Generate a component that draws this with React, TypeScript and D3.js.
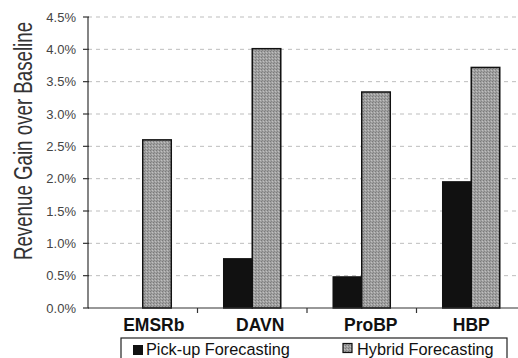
import React from "react";
import * as d3 from "d3";

const categories = ["EMSRb", "DAVN", "ProBP", "HBP"];
const seriesNames = ["Pick-up Forecasting", "Hybrid Forecasting"];
const pickupValues = [0, 0.0076, 0.0048, 0.0195];
const hybridValues = [0.026, 0.0401, 0.0334, 0.0372];
const yTicks = [0, 0.005, 0.01, 0.015, 0.02, 0.025, 0.03, 0.035, 0.04, 0.045];

const W = 518;
const H = 358;
const FONT = "'Liberation Sans', Arial, Helvetica, sans-serif";
// label nudges seen in the scanned original
const labelShift = [11, 8, 9, 0];

export default function App() {
  const left = 88;
  const right = 526;
  const y = d3.scaleLinear().domain([0, 0.045]).range([308, 17]);
  const x0 = d3.scaleBand<string>().domain(categories).range([left, right]).padding(0);
  const x1 = d3
    .scaleBand<string>()
    .domain(seriesNames)
    .range([0, x0.bandwidth()])
    .paddingInner(0)
    .paddingOuter(0.92);
  const fmt = d3.format(".1%");
  const series = [
    { name: seriesNames[0], values: pickupValues, fill: "#111" },
    { name: seriesNames[1], values: hybridValues, fill: "url(#stipple)" },
  ];

  return (
    <svg
      width={W}
      height={H}
      style={{ position: "fixed", left: 0, top: 0, background: "#fff" }}
      fontFamily={FONT}
    >
      <defs>
        <pattern id="stipple" width="3" height="3" patternUnits="userSpaceOnUse">
          <rect width="3" height="3" fill="#a0a0a0" />
          <rect x="0" y="0" width="1" height="1" fill="#7a7a7a" />
          <rect x="2" y="1" width="1" height="1" fill="#c0c0c0" />
          <rect x="1" y="2" width="1" height="1" fill="#868686" />
        </pattern>
      </defs>
      <rect width={W} height={H} fill="#fff" />
      {/* gridlines */}
      {yTicks.slice(1).map((t) => (
        <line
          key={"g" + t}
          x1={left}
          x2={right}
          y1={y(t)}
          y2={y(t)}
          stroke="#bdbdbd"
          strokeWidth={1}
          strokeDasharray="4,4"
        />
      ))}
      {/* bars */}
      {series.map((s) =>
        categories.map((c, i) =>
          s.values[i] > 0 ? (
            <rect
              key={s.name + c}
              x={(x0(c) as number) + (x1(s.name) as number)}
              y={y(s.values[i])}
              width={x1.bandwidth()}
              height={y(0) - y(s.values[i])}
              fill={s.fill}
              stroke="#111"
              strokeWidth={1.5}
            />
          ) : null
        )
      )}
      {/* y axis */}
      <line x1={left} x2={left} y1={y(0.045)} y2={y(0)} stroke="#333" strokeWidth={1.2} />
      {yTicks.map((t) => (
        <g key={"t" + t}>
          <line x1={left - 5} x2={left + 1} y1={y(t)} y2={y(t)} stroke="#333" strokeWidth={1.2} />
          <text
            x={left - 12}
            y={y(t)}
            dy="0.35em"
            textAnchor="end"
            fontSize={13}
            fill="#444"
          >
            {fmt(t)}
          </text>
        </g>
      ))}
      {/* x axis */}
      <line x1={left} x2={right} y1={y(0)} y2={y(0)} stroke="#333" strokeWidth={1.2} />
      {categories.map((c, i) => (
        <g key={"x" + c}>
          {i > 0 && (
            <line
              x1={x0(c) as number}
              x2={x0(c) as number}
              y1={y(0)}
              y2={y(0) + 5}
              stroke="#333"
              strokeWidth={1.2}
            />
          )}
          <text
            x={(x0(c) as number) + x0.bandwidth() / 2 + labelShift[i]}
            y={331}
            textAnchor="middle"
            fontSize={17.5}
            fontWeight="bold"
            fill="#111"
          >
            {c}
          </text>
        </g>
      ))}
      {/* y title */}
      <text
        transform={`translate(32,141) rotate(-90) scale(0.72,1)`}
        textAnchor="middle"
        fontSize={26}
        fill="#333"
      >
        Revenue Gain over Baseline
      </text>
      {/* legend */}
      <rect x={121} y={338} width={386} height={30} fill="#fff" stroke="#222" strokeWidth={1.2} />
      <rect x={133} y={345} width={10} height={10} fill="#111" />
      <text x={146} y={355} fontSize={16.3} fill="#111">
        {seriesNames[0]}
      </text>
      <rect x={343} y={343.5} width={9} height={9} fill="url(#stipple)" stroke="#111" strokeWidth={1.2} />
      <text x={357} y={355} fontSize={16.3} fill="#111">
        {seriesNames[1]}
      </text>
    </svg>
  );
}
